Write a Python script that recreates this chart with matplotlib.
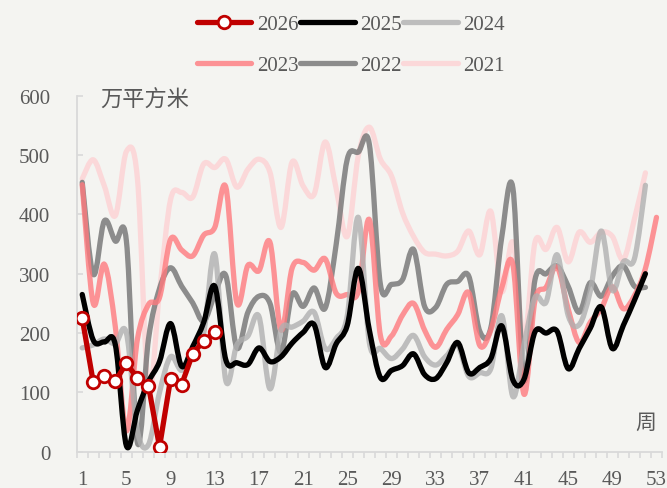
import numpy as np
import matplotlib
matplotlib.use('Agg')
import matplotlib.pyplot as plt
from matplotlib.path import Path
from matplotlib.patches import PathPatch
from matplotlib.lines import Line2D

plt.rcParams['font.family'] = ['Liberation Serif', 'Noto Sans CJK SC', 'DejaVu Sans']

# 周度数据（万平方米）
y2026 = [225, 117, 127, 119, 149, 124, 111, 8, 123, 113, 165, 187, 201]
y2025 = [265, 188, 185, 180, 10, 70, 118, 152, 216, 144, 177, 218, 279, 155, 150, 147,
         175, 152, 160, 183, 201, 214, 142, 182, 213, 309, 205, 125, 137, 145, 165, 130,
         123, 150, 184, 133, 142, 157, 212, 121, 122, 202, 200, 203, 140, 174, 208, 244,
         174, 213, 255, 300]
y2024 = [175, 180, 190, 182, 200, 35, 12, 100, 160, 137, 165, 200, 333, 120, 180, 195,
         228, 106, 205, 210, 220, 235, 174, 191, 229, 395, 184, 174, 157, 173, 196, 160,
         146, 162, 179, 127, 133, 140, 229, 93, 180, 260, 252, 332, 230, 214, 270, 372,
         272, 320, 325, 449]
y2023 = [450, 250, 316, 210, 35, 190, 248, 260, 358, 340, 330, 365, 378, 446, 251, 314,
         305, 353, 205, 309, 319, 306, 325, 267, 265, 270, 391, 196, 195, 230, 250, 205,
         176, 206, 231, 268, 179, 205, 277, 315, 97, 255, 277, 311, 241, 184, 218, 241,
         278, 241, 263, 309, 395]
y2022 = [454, 299, 389, 355, 355, 15, 190, 275, 310, 279, 251, 220, 265, 297, 175, 235,
         262, 250, 167, 265, 245, 276, 242, 350, 493, 505, 518, 282, 282, 290, 341, 245,
         243, 282, 287, 296, 203, 209, 363, 444, 122, 290, 300, 313, 279, 235, 285, 262,
         296, 313, 279, 277]
y2021 = [460, 492, 448, 398, 506, 460, 105, 270, 425, 437, 429, 485, 479, 493, 446, 476,
         493, 471, 378, 488, 448, 434, 522, 443, 363, 499, 547, 493, 465, 403, 363, 336,
         333, 330, 338, 372, 332, 405, 270, 353, 190, 353, 341, 378, 320, 370, 353, 370,
         363, 324, 392, 470]

x_ticks = list(range(1, 54, 4))
y_ticks = list(range(0, 601, 100))

bg = '#f4f4f1'
txt = '#595959'
axis_c = '#d9d9d9'


def smooth_path(ys):
    # 平滑曲线（类似 Excel 的平滑线）
    xs = np.arange(1, len(ys) + 1, dtype=float)
    pts = np.column_stack([xs, np.asarray(ys, dtype=float)])
    n = len(pts)
    verts = [pts[0]]
    codes = [Path.MOVETO]
    for i in range(n - 1):
        p0 = pts[i - 1] if i > 0 else pts[i]
        p1 = pts[i]
        p2 = pts[i + 1]
        p3 = pts[i + 2] if i + 2 < n else pts[i + 1]
        verts += [p1 + (p2 - p0) / 6, p2 - (p3 - p1) / 6, p2]
        codes += [Path.CURVE4] * 3
    return Path(verts, codes)


fig = plt.figure(figsize=(6.67, 4.89), dpi=100, facecolor=bg)
ax = fig.add_axes([0.115, 0.0742, 0.8775, 0.728])
ax.set_facecolor(bg)

lw = 3.8
series = [
    ('2021', y2021, '#fcd5d7', 0.9),
    ('2022', y2022, '#7a7a7a', 0.85),
    ('2023', y2023, '#ff7a7e', 0.8),
    ('2024', y2024, '#b0b0b0', 0.8),
    ('2025', y2025, '#000000', 1.0),
]
handles = {}
for z, (name, ys, col, a) in enumerate(series):
    ax.add_patch(PathPatch(smooth_path(ys), facecolor='none', edgecolor=col, lw=lw,
                           alpha=a, capstyle='round', joinstyle='round', zorder=2 + z))
    handles[name] = Line2D([], [], color=col, alpha=a, lw=lw, solid_capstyle='round')

w26 = np.arange(1, len(y2026) + 1)
ax.plot(w26, y2026, color='#c00000', lw=lw, marker='o', ms=9, mfc='white',
        mec='#c00000', mew=2, zorder=10, solid_joinstyle='round')
handles['2026'] = Line2D([], [], color='#c00000', lw=lw, marker='o', ms=9, mfc='white',
                         mec='#c00000', mew=2, solid_capstyle='round')

ax.set_xlim(0.5, 53.5)
ax.set_ylim(0, 600)

for s in ['top', 'right']:
    ax.spines[s].set_visible(False)
for s in ['left', 'bottom']:
    ax.spines[s].set_color(axis_c)
    ax.spines[s].set_linewidth(1.3)

ax.set_xticks(x_ticks)
ax.set_xticks(np.arange(0.5, 54, 1), minor=True)
ax.tick_params(axis='x', which='major', length=0, pad=13, labelsize=15, labelcolor=txt)
ax.tick_params(axis='x', which='minor', direction='out', length=4, width=1.2, color=axis_c)
ax.set_yticks(y_ticks)
ax.tick_params(axis='y', direction='in', length=4, width=1.2, color=axis_c,
               pad=19, labelsize=15, labelcolor=txt)

ax.text(0.04, 0.99, '万平方米', transform=ax.transAxes, fontsize=16, color=txt,
        family=['Noto Sans CJK SC'], ha='left', va='center')
ax.text(0.973, 0.083, '周', transform=ax.transAxes, fontsize=15, color=txt,
        family=['Noto Sans CJK SC'], ha='center', va='center')

# 图例按行排列：2026 2025 2024 / 2023 2022 2021
order = ['2026', '2023', '2025', '2022', '2024', '2021']
fig.legend([handles[k] for k in order], order, ncol=3, loc='upper center',
           bbox_to_anchor=(0.526, 0.99), frameon=False, fontsize=15,
           labelcolor=txt, handlelength=2.6, handletextpad=0.25,
           columnspacing=0.1, labelspacing=1.05, borderpad=0, numpoints=1)

fig.savefig('out.png', dpi=100, facecolor=bg)
